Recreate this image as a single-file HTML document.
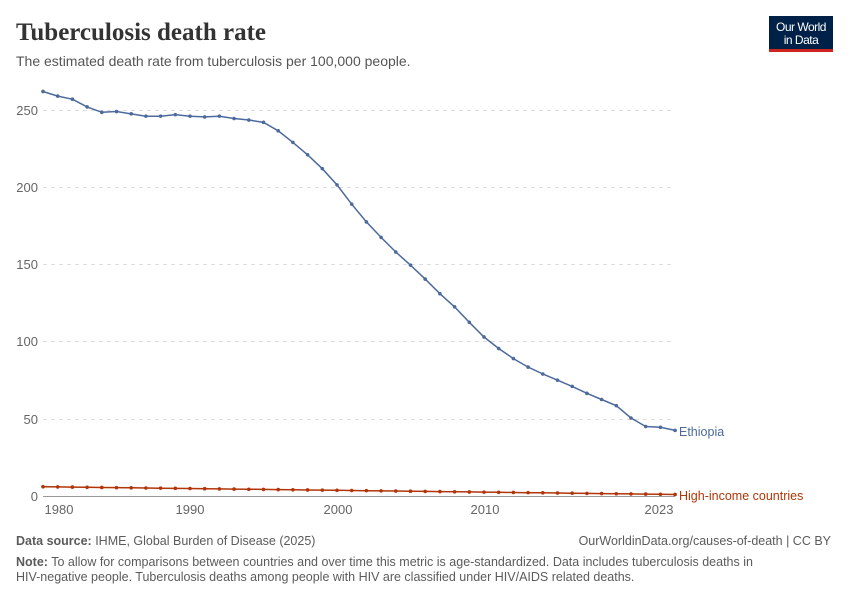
<!DOCTYPE html>
<html><head><meta charset="utf-8"><style>
body{margin:0;width:850px;height:600px;background:#fff;font-family:"Liberation Sans",sans-serif;overflow:hidden}
</style></head><body>
<svg id="s" width="850" height="600" xmlns="http://www.w3.org/2000/svg" font-family="Liberation Sans, sans-serif">
<text x="16" y="40" font-family="Liberation Serif, serif" font-size="25" font-weight="bold" fill="#333">Tuberculosis death rate</text>
<text x="16" y="66" font-size="14" fill="#555">The estimated death rate from tuberculosis per 100,000 people.</text>
<rect x="769" y="16" width="64" height="35" fill="#002147"/>
<rect x="769" y="49" width="64" height="3" fill="#ce261e"/>
<text x="801" y="31" font-size="12" fill="#fff" text-anchor="middle" letter-spacing="-0.5">Our World</text>
<text x="801" y="44" font-size="12" fill="#fff" text-anchor="middle" letter-spacing="-0.5">in Data</text>
<g stroke="#ddd" stroke-dasharray="4,4">
<line x1="43" x2="675" y1="110.5" y2="110.5"/><line x1="43" x2="675" y1="187.5" y2="187.5"/>
<line x1="43" x2="675" y1="264.5" y2="264.5"/><line x1="43" x2="675" y1="341.5" y2="341.5"/>
<line x1="43" x2="675" y1="419.5" y2="419.5"/>
</g>
<line x1="43" x2="675" y1="496.5" y2="496.5" stroke="#999"/>
<g font-size="13" fill="#666" text-anchor="end">
<text x="38" y="115">250</text><text x="38" y="192">200</text><text x="38" y="269">150</text>
<text x="38" y="346">100</text><text x="38" y="424">50</text><text x="38" y="501">0</text>
</g>
<g font-size="13" fill="#666" text-anchor="middle">
<text x="59" y="514">1980</text><text x="190" y="514">1990</text><text x="338" y="514">2000</text>
<text x="485" y="514">2010</text><text x="659" y="514">2023</text>
</g>
<g id="g"></g>
<text x="679" y="436" font-size="12.5" fill="#4c6a9c">Ethiopia</text>
<text x="679" y="500" font-size="12.5" fill="#b13507">High-income countries</text>
<text x="16" y="545" font-size="12.5" fill="#5b5b5b"><tspan font-weight="bold">Data source:</tspan> IHME, Global Burden of Disease (2025)</text>
<text x="831" y="545" font-size="12.5" fill="#5b5b5b" text-anchor="end">OurWorldinData.org/causes-of-death | CC BY</text>
<text x="16" y="566" font-size="12.5" fill="#5b5b5b"><tspan font-weight="bold">Note:</tspan> To allow for comparisons between countries and over time this metric is age-standardized. Data includes tuberculosis deaths in</text>
<text x="16" y="581" font-size="12.5" fill="#5b5b5b">HIV-negative people. Tuberculosis deaths among people with HIV are classified under HIV/AIDS related deaths.</text>
</svg>
<script>
var e=[262,259,257,252,248.5,249,247.5,246,246,247,246,245.5,246,244.5,243.5,242,236.5,229,221,212,201.5,189,177.5,167.5,158,149.5,140.5,131,122.5,112.5,103,95.5,89,83.5,79,75,71,66.5,62.5,58.5,50.5,45,44.5,42.5];
var h=[];for(var i=0;i<44;i++)h.push(6-5*i/43);
function X(i){return 43+i*14.7}function Y(v){return 496-v*1.544}
var g=document.getElementById('g'),s='';
[[e,'#4c6a9c'],[h,'#b13507']].forEach(function(p){var d=p[0].map(function(v,i){return X(i).toFixed(1)+','+Y(v).toFixed(1)}).join(' ');
s+='<polyline points="'+d+'" fill="none" stroke="'+p[1]+'" stroke-width="1.5"/>';
p[0].forEach(function(v,i){s+='<circle cx="'+X(i)+'" cy="'+Y(v)+'" r="1.8" fill="'+p[1]+'"/>'});});
g.innerHTML=s;
</script>
</body></html>
